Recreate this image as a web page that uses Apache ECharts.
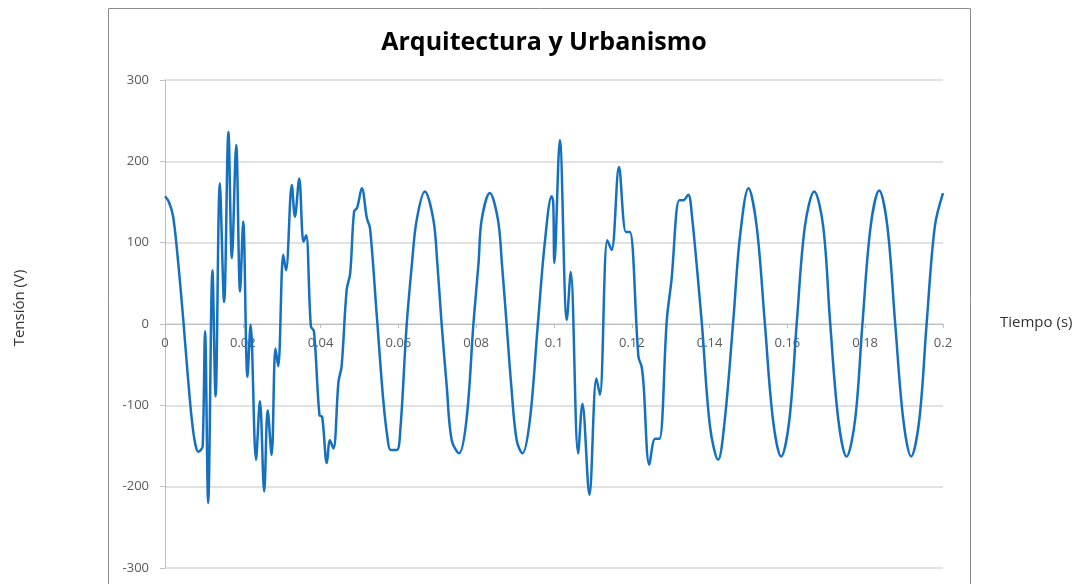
<!DOCTYPE html>
<html>
<head>
<meta charset="utf-8">
<script src="https://cdn.jsdelivr.net/npm/echarts@6/dist/echarts.min.js"></script>
<style>html,body{margin:0;padding:0;background:#fff;}#c{width:1089px;height:584px;}</style>
</head>
<body>
<div id="c"></div>
<script>
const title = 'Arquitectura y Urbanismo';
const xName = 'Tiempo (s)';
const yName = 'Tensión (V)';
const time = [0,0.001,0.0021,0.0035,0.0047,0.0058,0.0069,0.0078,0.0086,0.0092,0.0097,0.0103,0.0111,0.0122,0.0130,0.0141,0.0152,0.0163,0.0172,0.0183,0.0193,0.0201,0.0212,0.0220,0.0234,0.0244,0.0255,0.0264,0.0274,0.0284,0.0291,0.0304,0.0311,0.0326,0.0334,0.0345,0.0356,0.0363,0.0375,0.0383,0.0397,0.0404,0.0416,0.0424,0.0433,0.0446,0.0454,0.0467,0.0476,0.0486,0.0494,0.0506,0.0519,0.0527,0.0544,0.0561,0.0572,0.0580,0.0596,0.0605,0.0621,0.0635,0.0647,0.0668,0.0690,0.0700,0.0711,0.0724,0.0737,0.0756,0.0775,0.0793,0.0806,0.0814,0.0835,0.0856,0.0866,0.0878,0.0890,0.0904,0.0919,0.0938,0.0958,0.0977,0.0994,0.0998,0.1001,0.1015,0.1033,0.1043,0.1062,0.1073,0.1091,0.1109,0.1118,0.1137,0.1148,0.1167,0.1185,0.1195,0.1217,0.1225,0.1230,0.1245,0.1260,0.1271,0.1290,0.1302,0.1322,0.1332,0.1345,0.1354,0.1380,0.1401,0.1422,0.1439,0.1461,0.1478,0.1500,0.1521,0.1542,0.1563,0.1584,0.1605,0.1624,0.1645,0.1669,0.1692,0.1710,0.1731,0.1752,0.1774,0.1793,0.1814,0.1836,0.1857,0.1877,0.1898,0.1918,0.1939,0.1958,0.1979,0.2000];
const voltage = [157,150,132,70,5,-60,-118,-148,-157,-155,-150,-9,-220,66,-89,173,27,236,81,220,40,126,-65,-1,-167,-95,-206,-106,-161,-30,-52,85,66,171,132,179,101,109,-3,-9,-112,-114,-171,-143,-153,-71,-52,42,62,138,143,167,130,118,13,-93,-140,-155,-155,-130,-3,75,128,163,128,75,1,-75,-143,-159,-118,1,75,128,161,128,75,1,-75,-143,-159,-118,-3,103,157,150,75,226,5,64,-159,-98,-210,-67,-87,103,91,193,113,113,-40,-52,-73,-173,-141,-141,5,54,152,152,159,136,1,-126,-167,-118,5,107,167,120,1,-118,-163,-118,1,120,163,120,1,-118,-163,-118,1,120,164,120,1,-118,-163,-118,1,120,161];
const yTicks = [-300,-200,-100,0,100,200,300];

const chart = echarts.init(document.getElementById('c'));
chart.setOption({
  animation: false,
  backgroundColor: '#fff',
  title: {
    text: title, left: 539, top: 25, textAlign: 'center',
    textStyle: {fontFamily: 'Open Sans', fontWeight: 'bold', fontSize: 25, color: '#000'}
  },
  graphic: [{
    type: 'rect', shape: {x: 108.5, y: 8.5, width: 862, height: 620},
    style: {fill: 'none', stroke: '#8c8c8c', lineWidth: 1}, z: -1
  }, {
    type: 'text', x: 1000, y: 323,
    style: {text: xName, font: '15px "Open Sans"', fill: '#333', verticalAlign: 'middle', align: 'left'}
  }, {
    type: 'text', x: 20, y: 308, rotation: Math.PI / 2,
    style: {text: yName, font: '15px "Open Sans"', fill: '#333', verticalAlign: 'middle', align: 'center'}
  }],
  grid: {left: 165, right: 146, top: 80, bottom: 16},
  xAxis: {
    type: 'value', min: 0, max: 0.2, interval: 0.02,
    position: 'bottom', offset: -244,
    axisLine: {onZero: false, lineStyle: {color: '#bfbfbf', width: 1}},
    axisTick: {show: true, length: 4, lineStyle: {color: '#bfbfbf'}},
    axisLabel: {fontFamily: 'Open Sans', fontSize: 13, color: '#595959', margin: 13, showMaxLabel: true, showMinLabel: true},
    splitLine: {show: false}
  },
  yAxis: {
    type: 'value', min: yTicks[0], max: yTicks[yTicks.length-1], interval: 100,
    axisLine: {show: true, lineStyle: {color: '#bfbfbf', width: 1}},
    axisTick: {show: true, length: 5, lineStyle: {color: '#bfbfbf'}},
    axisLabel: {fontFamily: 'Open Sans', fontSize: 13, color: '#595959', margin: 16},
    splitLine: {show: true, lineStyle: {color: '#d9d9d9', width: 1.5}}
  },
  series: [{
    type: 'line',
    data: time.map((t, i) => [t, voltage[i]]),
    smooth: 0.35,
    showSymbol: false,
    lineStyle: {color: '#1570c0', width: 2.5},
    itemStyle: {color: '#1570c0'}
  }]
});
</script>
</body>
</html>
